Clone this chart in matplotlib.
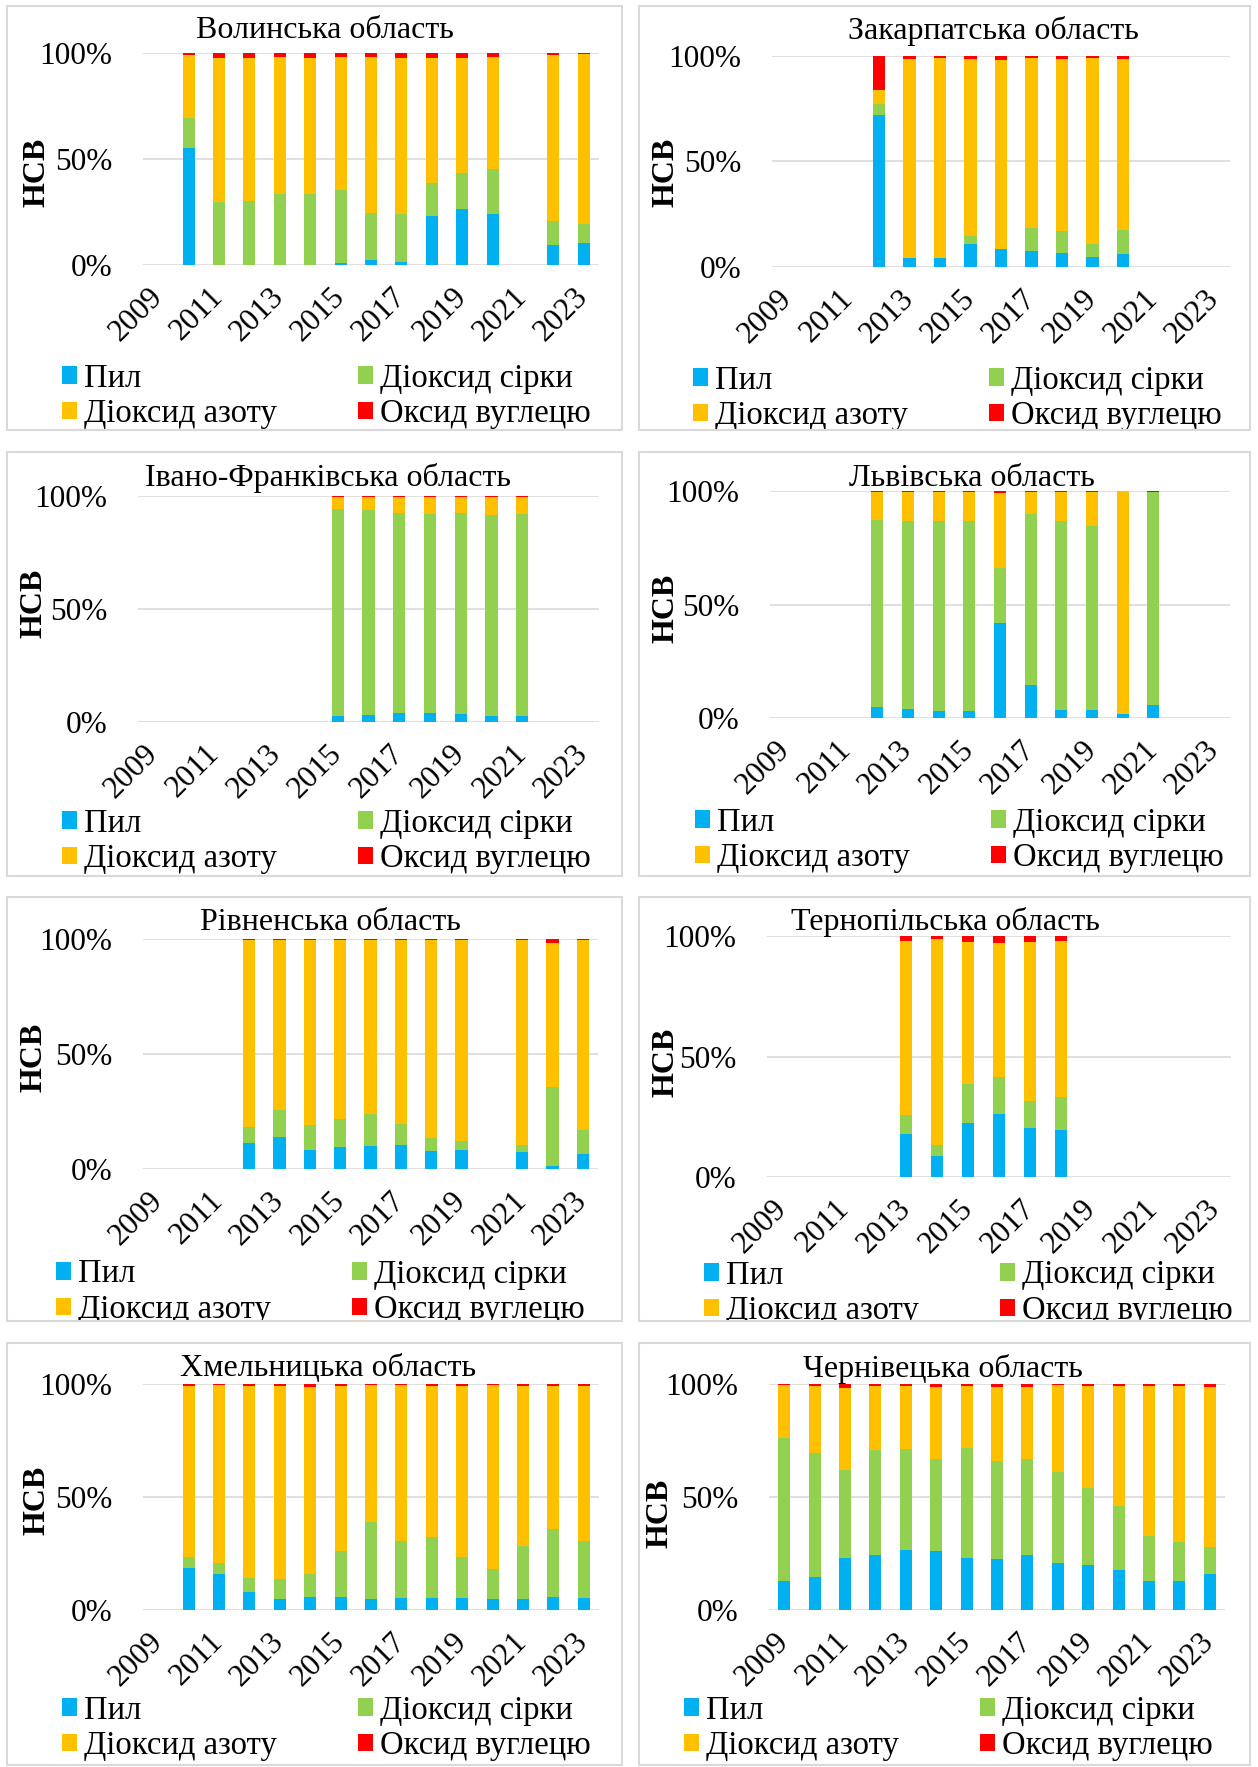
import numpy as np
import matplotlib
matplotlib.use("Agg")
import matplotlib.pyplot as plt
from matplotlib.patches import Patch, Rectangle
from matplotlib.transforms import Bbox, TransformedBbox

plt.rcParams['font.family'] = ['Liberation Serif', 'DejaVu Serif']

nan = np.nan

# ---------------------------------------------------------------- data
years = list(range(2009, 2024))
pollutants = ["Пил", "Діоксид сірки", "Діоксид азоту", "Оксид вуглецю"]
colors = ["#00B0F0", "#92D050", "#FFC000", "#FF0000"]
regions = ["Волинська область", "Закарпатська область",
           "Івано-Франківська область", "Львівська область",
           "Рівненська область", "Тернопільська область",
           "Хмельницька область", "Чернівецька область"]

# shares of each pollutant, %, one value per year 2009..2023 (nan = no data)
volyn_dust = [nan, 55.3, 0, 0, 0, 0, 1.0, 2.2, 1.6, 23.1, 26.4, 24.2, nan, 9.4, 10.4]
volyn_so2 = [nan, 14.2, 29.8, 30.0, 33.3, 33.3, 34.6, 22.1, 22.4, 15.7, 16.8, 21.2, nan, 11.2, 9.1]
volyn_no2 = [nan, 29.4, 67.7, 67.8, 64.8, 64.2, 62.4, 73.7, 73.8, 58.7, 54.6, 52.6, nan, 78.3, 80.0]
volyn_co = [nan, 1.1, 2.5, 2.2, 1.9, 2.5, 2.0, 2.0, 2.2, 2.5, 2.2, 2.0, nan, 1.1, 0.5]

zakarp_dust = [nan, nan, nan, 72.0, 4.1, 4.3, 11.0, 8.3, 7.4, 6.6, 4.6, 6.0, nan, nan, nan]
zakarp_so2 = [nan, nan, nan, 5.2, 0.2, 0.2, 3.5, 0.2, 11.3, 10.4, 6.3, 11.3, nan, nan, nan]
zakarp_no2 = [nan, nan, nan, 6.9, 94.3, 94.6, 84.1, 89.5, 80.4, 81.6, 88.2, 81.3, nan, nan, nan]
zakarp_co = [nan, nan, nan, 15.9, 1.4, 0.9, 1.4, 2.0, 0.9, 1.4, 0.9, 1.4, nan, nan, nan]

ifr_dust = [nan] * 6 + [2.7, 2.9, 3.8, 3.8, 3.4, 2.5, 2.5] + [nan] * 2
ifr_so2 = [nan] * 6 + [91.5, 90.9, 88.7, 88.4, 89.1, 89.2, 89.5] + [nan] * 2
ifr_no2 = [nan] * 6 + [5.5, 5.9, 7.2, 7.5, 7.2, 8.0, 7.7] + [nan] * 2
ifr_co = [nan] * 6 + [0.3, 0.3, 0.3, 0.3, 0.3, 0.3, 0.3] + [nan] * 2

lviv_dust = [nan] * 3 + [4.7, 3.8, 2.9, 3.2, 41.9, 14.6, 3.4, 3.4, 1.9, 5.6] + [nan] * 2
lviv_so2 = [nan] * 3 + [82.6, 83.0, 84.1, 83.6, 24.0, 75.3, 83.6, 81.1, 0.0, 93.8] + [nan] * 2
lviv_no2 = [nan] * 3 + [12.4, 12.9, 12.7, 12.9, 33.3, 9.8, 12.7, 15.2, 97.9, 0.0] + [nan] * 2
lviv_co = [nan] * 3 + [0.3, 0.3, 0.3, 0.3, 0.8, 0.3, 0.3, 0.3, 0.2, 0.6] + [nan] * 2

rivne_dust = [nan] * 3 + [11.1, 13.7, 8.1, 9.4, 9.8, 10.5, 7.7, 8.1, nan, 7.5, 1.2, 6.4]
rivne_so2 = [nan] * 3 + [7.1, 11.9, 11.0, 12.3, 14.0, 9.0, 5.7, 3.9, nan, 3.0, 34.6, 10.7]
rivne_no2 = [nan] * 3 + [81.2, 73.8, 80.5, 77.7, 75.6, 80.1, 86.2, 87.6, nan, 89.1, 62.3, 82.5]
rivne_co = [nan] * 3 + [0.6, 0.6, 0.4, 0.6, 0.6, 0.4, 0.4, 0.4, nan, 0.4, 1.9, 0.4]

tern_dust = [nan] * 4 + [18.0, 8.9, 22.5, 26.3, 20.5, 19.4] + [nan] * 5
tern_so2 = [nan] * 4 + [7.7, 4.4, 16.0, 15.3, 11.2, 13.8] + [nan] * 5
tern_no2 = [nan] * 4 + [72.2, 85.5, 59.0, 55.4, 65.8, 64.6] + [nan] * 5
tern_co = [nan] * 4 + [2.1, 1.2, 2.5, 3.0, 2.5, 2.2] + [nan] * 5

khm_dust = [nan, 18.5, 16.1, 8.1, 5.0, 5.8, 5.8, 5.0, 5.5, 5.2, 5.5, 5.0, 5.0, 5.8, 5.5]
khm_so2 = [nan, 5.1, 4.9, 5.9, 8.6, 10.2, 20.5, 34.1, 25.2, 27.0, 17.8, 13.0, 23.5, 30.2, 25.2]
khm_no2 = [nan, 75.7, 78.4, 85.3, 85.5, 82.8, 73.0, 60.3, 68.7, 66.9, 75.8, 81.4, 70.6, 63.1, 68.4]
khm_co = [nan, 0.7, 0.6, 0.7, 0.9, 1.2, 0.7, 0.6, 0.6, 0.9, 0.9, 0.6, 0.9, 0.9, 0.9]

cher_dust = [12.7, 14.6, 23.2, 24.4, 26.6, 26.3, 23.2, 22.6, 24.4, 20.9, 19.8, 17.9, 13.0, 12.7, 16.0]
cher_so2 = [63.2, 54.9, 38.9, 46.6, 44.6, 40.7, 48.7, 43.2, 42.3, 40.0, 34.0, 28.1, 19.8, 17.6, 12.0]
cher_no2 = [23.5, 29.8, 36.0, 28.0, 27.8, 31.7, 27.1, 32.9, 32.0, 38.6, 45.2, 53.3, 66.4, 68.7, 70.7]
cher_co = [0.6, 0.7, 1.9, 1.0, 1.0, 1.3, 1.0, 1.3, 1.3, 0.5, 1.0, 0.7, 0.8, 1.0, 1.3]

series = [
    [volyn_dust, volyn_so2, volyn_no2, volyn_co],
    [zakarp_dust, zakarp_so2, zakarp_no2, zakarp_co],
    [ifr_dust, ifr_so2, ifr_no2, ifr_co],
    [lviv_dust, lviv_so2, lviv_no2, lviv_co],
    [rivne_dust, rivne_so2, rivne_no2, rivne_co],
    [tern_dust, tern_so2, tern_no2, tern_co],
    [khm_dust, khm_so2, khm_no2, khm_co],
    [cher_dust, cher_so2, cher_no2, cher_co],
]

# ---------------------------------------------------------------- layout (pixels)
W, H = 1258, 1767
boxes = [(7, 6, 622, 430), (639, 6, 1250, 430),
         (7, 452, 622, 876), (639, 452, 1250, 876),
         (7, 897, 622, 1321), (639, 897, 1250, 1321),
         (7, 1343, 622, 1765), (639, 1343, 1250, 1765)]
# plot area: x left, x right, y of 100 %, y of 0 %
plots = [(143, 599, 53, 265), (772, 1230, 56, 267),
         (138, 599, 496, 722), (770, 1230, 491, 718),
         (143, 598, 939, 1169), (767, 1231, 936, 1177),
         (143, 599, 1384, 1610), (769, 1225, 1384, 1610)]
titles = [(325, 31), (993, 31), (328, 478), (972, 478),
          (330, 922), (945, 922), (328, 1368), (943, 1369)]
ylabels = [(37, 172), (666, 172), (34, 603), (666, 608),
           (34, 1057), (666, 1062), (37, 1500), (660, 1513)]
# legend: x of first marker, y of first row centre
legends = [(62, 381), (693, 383), (62, 826), (695, 825),
           (56, 1277), (704, 1278), (62, 1713), (684, 1713)]

GRID = "#D9D9D9"
TICK_FS = 22.5
LEG_FS = 23.5
TITLE_FS = 23

fig = plt.figure(figsize=(W / 100, H / 100), dpi=100)


def fx(x):
    return x / W


def fy(y):
    return 1 - y / H


for k in range(8):
    bx0, by0, bx1, by1 = boxes[k]
    fig.patches.append(Rectangle((fx(bx0), fy(by1)), fx(bx1 - bx0), (by1 - by0) / H,
                                 transform=fig.transFigure, fill=False,
                                 edgecolor=GRID, linewidth=1.5, zorder=0))
    box_clip = TransformedBbox(Bbox([[fx(bx0), fy(by1)], [fx(bx1), fy(by0)]]),
                               fig.transFigure)

    px0, px1, pt, pb = plots[k]
    ax = fig.add_axes([fx(px0), fy(pb), fx(px1 - px0), (pb - pt) / H])

    vals = np.array(series[k], dtype=float)
    valid = ~np.isnan(vals).any(axis=0)
    pos = np.arange(len(years))[valid]
    v = vals[:, valid]
    v = v / v.sum(axis=0) * 100.0
    bottom = np.zeros(v.shape[1])
    for j in range(4):
        ax.bar(pos, v[j], width=0.4, bottom=bottom, color=colors[j],
               linewidth=0, zorder=3)
        bottom += v[j]

    ax.set_xlim(-0.5, len(years) - 0.5)
    ax.set_ylim(0, 100)
    ax.set_yticks([0, 50, 100])
    ax.set_yticklabels(["0%", "50%", "100%"])
    ax.set_xticks(np.arange(0, len(years), 2))
    ax.set_xticklabels([str(y) for y in years[::2]], rotation=45, ha="right",
                       va="center", rotation_mode="anchor")
    ax.tick_params(axis="both", length=0, labelsize=TICK_FS)
    ax.tick_params(axis="y", pad=22)
    ax.tick_params(axis="x", pad=20)
    for s in ax.spines.values():
        s.set_visible(False)
    ax.grid(axis="y", color=GRID, linewidth=1.2, zorder=0)
    ax.set_axisbelow(True)
    ax.patch.set_alpha(0)

    tx, ty = titles[k]
    fig.text(fx(tx), fy(ty), regions[k], ha="center", va="center",
             fontsize=TITLE_FS)
    lx, ly = ylabels[k]
    fig.text(fx(lx), fy(ly), "НСВ", ha="center", va="center", rotation=90,
             fontsize=23, fontweight="bold")

    handles = [Patch(facecolor=c, edgecolor="none") for c in colors]
    order = [0, 2, 1, 3]
    gx, gy = legends[k]
    leg = ax.legend([handles[i] for i in order], [pollutants[i] for i in order],
                    ncol=2, loc="upper left",
                    bbox_to_anchor=(fx(gx), fy(gy - 18)),
                    bbox_transform=fig.transFigure, frameon=False,
                    fontsize=LEG_FS, handlelength=0.46, handleheight=0.46,
                    handletextpad=0.2, columnspacing=2.5, labelspacing=0.16,
                    borderpad=0, borderaxespad=0)
    for t in leg.get_texts():
        t.set_clip_box(box_clip)
        t.set_clip_on(True)

fig.savefig("out.png", dpi=100)
